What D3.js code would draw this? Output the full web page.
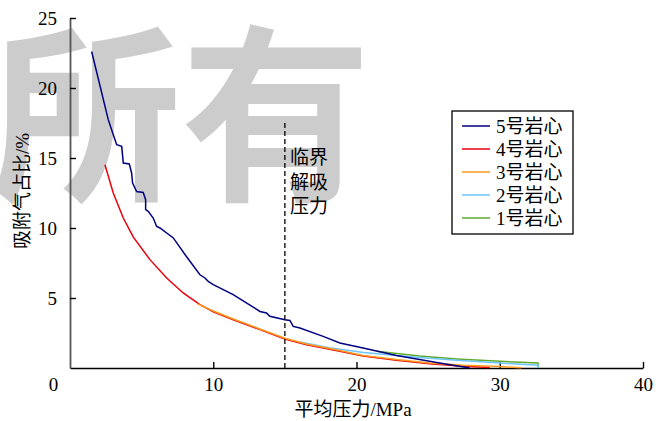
<!DOCTYPE html>
<html>
<head>
<meta charset="utf-8">
<script src="https://cdn.jsdelivr.net/npm/d3@7"></script>
<style>
  body { margin: 0; background: #fff; }
</style>
</head>
<body>
<div id="chart"></div>
<script>
// data: [pressure MPa, adsorbed gas share %]
var core5 = [[1.51,22.61],[2.67,17.74],[3.14,16.31],[3.26,15.95],[3.61,15.83],[3.72,14.64],[4.14,14.57],
  [4.30,13.93],[4.37,13.21],[4.65,12.61],[5.11,12.54],[5.28,12.02],[5.28,11.31],[5.46,11.19],[5.81,10.71],
  [6.05,10.11],[6.28,10.0],[7.21,9.29],[8.1,8.0],[9.07,6.66],[9.42,6.43],[9.65,6.19],[10.0,5.95],[11.39,5.24],
  [13.26,4.04],[13.72,3.93],[13.95,3.69],[15.0,3.45],[15.35,3.40],[15.58,2.97],[16.05,2.86],[17.67,2.26],
  [18.84,1.79],[20.46,1.43],[22.79,0.90],[24.2,0.65],[25.8,0.35],[27.9,0.0]];
var core4 = [[2.44,14.52],[3.02,12.5],[3.72,10.71],[4.42,9.35],[5.58,7.74],[6.75,6.43],[7.9,5.36],
  [9.07,4.52],[10.0,4.02],[11.4,3.45],[13.26,2.74],[15.0,2.07],[16.51,1.66],[18.84,1.19],[20.46,0.86],
  [22.79,0.55],[25.1,0.30],[27.44,0.13],[29.3,0.03]];
var core3 = [[8.9,4.58],[10.0,4.07],[11.4,3.5],[13.26,2.79],[15.0,2.12],[16.5,1.72],[18.84,1.25],
  [20.46,0.9],[22.79,0.6],[25.1,0.36],[27.44,0.2],[30.0,0.1],[31.5,0.02]];
var core2 = [[15.6,1.95],[18.1,1.45],[20.5,1.1],[22.8,0.9],[24.4,0.75],[27.0,0.55],[30.0,0.35],[32.67,0.2],[32.67,0]];
var core1 = [[21.4,1.2],[24.4,0.85],[27.0,0.65],[30.0,0.48],[32.67,0.36],[32.67,0]];

var seriesNames = ["5号岩心", "4号岩心", "3号岩心", "2号岩心", "1号岩心"];
var seriesColors = ["#000080", "#e8000b", "#ff9a1f", "#6ec6ff", "#5faa2e"];
var seriesData = [core5, core4, core3, core2, core1];

var xTicks = [0, 10, 20, 30, 40];
var yTicks = [5, 10, 15, 20, 25];
var criticalPressure = 15;

var serifFont = "'Liberation Serif', 'Noto Sans CJK SC'";

var svgWidth = 670, svgHeight = 421;
var margin = {top: 18, right: 27, bottom: 53, left: 70};
var chartWidth = svgWidth - margin.left - margin.right;
var chartHeight = svgHeight - margin.top - margin.bottom;

var svg = d3.select("#chart").append("svg")
  .attr("width", svgWidth)
  .attr("height", svgHeight);

// watermark behind everything
svg.append("text")
  .attr("x", -9)
  .attr("y", 186)
  .style("font-family", "'Noto Sans CJK SC'")
  .style("font-weight", "700")
  .style("font-size", "190px")
  .style("fill", "#cccccc")
  .text("所有");

var chartGroup = svg.append("g")
  .attr("transform", `translate(${margin.left}, ${margin.top})`);

var xScale = d3.scaleLinear().domain([0, 40]).range([0, chartWidth]);
var yScale = d3.scaleLinear().domain([0, 25]).range([chartHeight, 0]);

// x axis, ticks pointing up
var xAxis = chartGroup.append("g")
  .attr("transform", `translate(0, ${chartHeight})`)
  .call(d3.axisBottom(xScale).tickValues(xTicks).tickSize(-6).tickPadding(10).tickSizeOuter(0));
xAxis.attr("font-family", null).attr("font-size", null);
xAxis.select(".domain").attr("stroke", "#000").attr("stroke-width", 1.6);
xAxis.selectAll(".tick line").attr("stroke-width", 1.4);
xAxis.selectAll(".tick text")
  .style("font-family", serifFont).style("font-size", "19px")
  .attr("dx", d => d === 0 ? -17 : 0);
xAxis.selectAll(".tick").filter(d => d === 0).select("line").remove();

// y axis, ticks pointing right
var yAxis = chartGroup.append("g")
  .call(d3.axisLeft(yScale).tickValues(yTicks).tickSize(-6).tickPadding(13).tickSizeOuter(0));
yAxis.attr("font-family", null).attr("font-size", null);
yAxis.select(".domain").attr("stroke", "#555").attr("stroke-width", 1.8);
yAxis.selectAll(".tick line").attr("stroke-width", 1.4);
yAxis.selectAll(".tick text").style("font-family", serifFont).style("font-size", "19px");

// curves
var line = d3.line().x(d => xScale(d[0])).y(d => yScale(d[1]));
// 1号 at the back, 5号 on top
[4, 3, 1, 2, 0].forEach(i => {
  chartGroup.append("path")
    .datum(seriesData[i])
    .attr("fill", "none")
    .attr("stroke", seriesColors[i])
    .attr("stroke-width", 1.5)
    .attr("d", line);
});

// critical desorption pressure
chartGroup.append("line")
  .attr("x1", xScale(criticalPressure)).attr("x2", xScale(criticalPressure))
  .attr("y1", yScale(17.5)).attr("y2", yScale(0))
  .attr("stroke", "#000").attr("stroke-width", 1.3)
  .attr("stroke-dasharray", "5,3");

["临界", "解吸", "压力"].forEach((t, i) => {
  chartGroup.append("text")
    .attr("x", xScale(criticalPressure) + 5)
    .attr("y", 146 + i * 24.5)
    .style("font-family", serifFont)
    .style("font-size", "19px")
    .text(t);
});

// legend
var legend = svg.append("g").attr("transform", "translate(452, 111)");
legend.append("rect")
  .attr("width", 121).attr("height", 123)
  .attr("fill", "#fff").attr("stroke", "#000").attr("stroke-width", 1.3);
seriesNames.forEach((name, i) => {
  var yy = 15 + i * 23;
  legend.append("line")
    .attr("x1", 10).attr("x2", 38).attr("y1", yy).attr("y2", yy)
    .attr("stroke", seriesColors[i]).attr("stroke-width", 1.5);
  legend.append("text")
    .attr("x", 44).attr("y", yy + 7)
    .style("font-family", serifFont)
    .style("font-size", "19px")
    .text(name);
});

// axis titles
svg.append("text")
  .attr("x", 353).attr("y", 416)
  .attr("text-anchor", "middle")
  .style("font-family", serifFont)
  .style("font-size", "19px")
  .text("平均压力/MPa");

svg.append("text")
  .attr("transform", "translate(29, 191) rotate(-90)")
  .attr("text-anchor", "middle")
  .style("font-family", serifFont)
  .style("font-size", "19px")
  .text("吸附气占比/%");
</script>
</body>
</html>
